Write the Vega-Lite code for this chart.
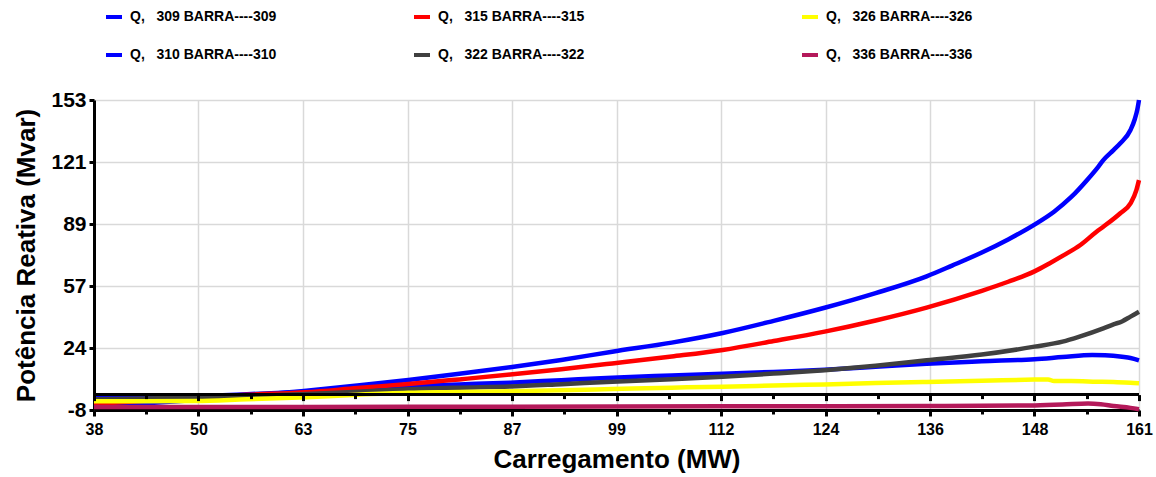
{
  "$schema": "https://vega.github.io/schema/vega-lite/v6.json",
  "width": 1045,
  "height": 310,
  "autosize": {"type": "none"},
  "padding": {"left": 94, "top": 100, "right": 17, "bottom": 67},
  "background": "white",
  "config": {
    "view": {"stroke": null},
    "font": "Liberation Sans",
    "axis": {"labelFont": "Liberation Sans", "labelFontWeight": "bold", "labelColor": "black", "titleFont": "Liberation Sans", "titleFontWeight": "bold", "titleColor": "black"},
    "legend": {"orient": "none", "direction": "vertical", "symbolType": "stroke", "symbolStrokeWidth": 4, "symbolSize": 256, "labelFont": "Liberation Sans", "labelFontWeight": "bold", "labelFontSize": 14, "labelColor": "black", "labelOffset": 6, "rowPadding": 20, "padding": 0, "title": null, "labelLimit": 400}
  },
  "data": {"values": [
    {"s":"309","x":38,"y":-6.3},{"s":"309","x":44,"y":-4.6},{"s":"309","x":50,"y":-2.8},{"s":"309","x":56,"y":-0.6},{"s":"309","x":63,"y":2.0},{"s":"309","x":69,"y":4.7},{"s":"309","x":75,"y":7.6},{"s":"309","x":81,"y":10.8},{"s":"309","x":87,"y":14.2},{"s":"309","x":93,"y":18.0},{"s":"309","x":99,"y":22.3},{"s":"309","x":106,"y":27.0},{"s":"309","x":112,"y":32.0},{"s":"309","x":118,"y":38.3},{"s":"309","x":124,"y":45.1},{"s":"309","x":130,"y":52.7},{"s":"309","x":136,"y":61.4},{"s":"309","x":139,"y":67.0},{"s":"309","x":142.5,"y":73.8},{"s":"309","x":145.6,"y":80.6},{"s":"309","x":148.7,"y":88.3},{"s":"309","x":151,"y":95.0},{"s":"309","x":153,"y":102.5},{"s":"309","x":155,"y":112.0},{"s":"309","x":156.2,"y":118.3},{"s":"309","x":156.8,"y":121.8},{"s":"309","x":158,"y":127.0},{"s":"309","x":158.8,"y":130.5},{"s":"309","x":160,"y":137.4},{"s":"309","x":160.5,"y":143.0},{"s":"309","x":160.8,"y":148.0},{"s":"309","x":161,"y":153.0},
    {"s":"310","x":38,"y":-1.9},{"s":"310","x":44,"y":-1.4},{"s":"310","x":50,"y":-0.8},{"s":"310","x":56,"y":0.2},{"s":"310","x":63,"y":1.5},{"s":"310","x":69,"y":3.0},{"s":"310","x":75,"y":4.4},{"s":"310","x":81,"y":5.3},{"s":"310","x":87,"y":6.2},{"s":"310","x":93,"y":7.5},{"s":"310","x":99,"y":8.8},{"s":"310","x":106,"y":9.9},{"s":"310","x":112,"y":10.8},{"s":"310","x":118,"y":11.8},{"s":"310","x":124,"y":12.9},{"s":"310","x":130,"y":14.4},{"s":"310","x":136,"y":16.0},{"s":"310","x":142.5,"y":17.3},{"s":"310","x":148.7,"y":18.4},{"s":"310","x":152,"y":19.5},{"s":"310","x":155.5,"y":20.6},{"s":"310","x":157,"y":20.4},{"s":"310","x":159,"y":19.6},{"s":"310","x":160,"y":19.0},{"s":"310","x":161,"y":17.8},
    {"s":"315","x":38,"y":-4.9},{"s":"315","x":44,"y":-3.2},{"s":"315","x":50,"y":-1.6},{"s":"315","x":56,"y":-0.1},{"s":"315","x":63,"y":1.2},{"s":"315","x":69,"y":3.4},{"s":"315","x":75,"y":5.5},{"s":"315","x":81,"y":7.9},{"s":"315","x":87,"y":10.4},{"s":"315","x":93,"y":13.2},{"s":"315","x":99,"y":16.2},{"s":"315","x":106,"y":19.8},{"s":"315","x":112,"y":23.2},{"s":"315","x":118,"y":27.8},{"s":"315","x":124,"y":32.7},{"s":"315","x":130,"y":38.5},{"s":"315","x":136,"y":45.2},{"s":"315","x":142.5,"y":53.9},{"s":"315","x":145.6,"y":58.6},{"s":"315","x":148.7,"y":64.0},{"s":"315","x":150.4,"y":68.0},{"s":"315","x":152.1,"y":72.3},{"s":"315","x":154.1,"y":77.7},{"s":"315","x":156,"y":84.6},{"s":"315","x":156.8,"y":87.2},{"s":"315","x":158.8,"y":94.2},{"s":"315","x":160,"y":99.3},{"s":"315","x":160.7,"y":106.3},{"s":"315","x":161,"y":111.4},
    {"s":"322","x":38,"y":-2.4},{"s":"322","x":44,"y":-2.0},{"s":"322","x":50,"y":-1.5},{"s":"322","x":56,"y":-0.7},{"s":"322","x":63,"y":0.3},{"s":"322","x":69,"y":1.5},{"s":"322","x":75,"y":2.8},{"s":"322","x":81,"y":3.6},{"s":"322","x":87,"y":4.2},{"s":"322","x":93,"y":5.4},{"s":"322","x":99,"y":6.7},{"s":"322","x":106,"y":8.0},{"s":"322","x":112,"y":9.3},{"s":"322","x":118,"y":10.9},{"s":"322","x":124,"y":12.7},{"s":"322","x":130,"y":15.0},{"s":"322","x":136,"y":17.8},{"s":"322","x":142.5,"y":20.8},{"s":"322","x":148.7,"y":24.9},{"s":"322","x":152,"y":27.5},{"s":"322","x":154,"y":30.1},{"s":"322","x":156.8,"y":34.4},{"s":"322","x":158,"y":36.5},{"s":"322","x":159,"y":38.0},{"s":"322","x":160,"y":40.5},{"s":"322","x":161,"y":43.0},
    {"s":"326","x":38,"y":-3.4},{"s":"326","x":44,"y":-3.4},{"s":"326","x":50,"y":-3.3},{"s":"326","x":56,"y":-2.4},{"s":"326","x":63,"y":-1.4},{"s":"326","x":69,"y":-0.1},{"s":"326","x":75,"y":0.9},{"s":"326","x":81,"y":1.3},{"s":"326","x":87,"y":1.8},{"s":"326","x":93,"y":2.3},{"s":"326","x":99,"y":2.9},{"s":"326","x":106,"y":3.6},{"s":"326","x":112,"y":4.1},{"s":"326","x":118,"y":4.7},{"s":"326","x":124,"y":5.3},{"s":"326","x":130,"y":6.0},{"s":"326","x":136,"y":6.6},{"s":"326","x":142.5,"y":7.2},{"s":"326","x":148.7,"y":7.8},{"s":"326","x":150.3,"y":7.9},{"s":"326","x":151,"y":7.0},{"s":"326","x":153,"y":7.0},{"s":"326","x":156,"y":6.7},{"s":"326","x":158,"y":6.5},{"s":"326","x":160,"y":6.2},{"s":"326","x":161,"y":5.9},
    {"s":"336","x":38,"y":-6.5},{"s":"336","x":63,"y":-6.4},{"s":"336","x":87,"y":-6.3},{"s":"336","x":112,"y":-6.1},{"s":"336","x":124,"y":-6.0},{"s":"336","x":136,"y":-5.9},{"s":"336","x":148.7,"y":-5.6},{"s":"336","x":152,"y":-5.2},{"s":"336","x":155,"y":-4.6},{"s":"336","x":156.5,"y":-5.0},{"s":"336","x":158,"y":-5.9},{"s":"336","x":160,"y":-6.9},{"s":"336","x":161,"y":-7.6}
  ]},
  "resolve": {"scale": {"color": "independent"}, "axis": {"x": "independent"}},
  "layer": [
    {
      "transform": [{"filter": "datum.s === '309' || datum.s === '310'"}],
      "mark": {"type": "line", "strokeWidth": 4.5, "interpolate": "monotone"},
      "encoding": {
        "x": {"field": "x", "type": "quantitative", "scale": {"domain": [38, 161], "nice": false, "zero": false},
          "axis": {
            "values": [38, 44.15, 50.3, 56.45, 62.6, 68.75, 74.9, 81.05, 87.2, 93.35, 99.5, 105.65, 111.8, 117.95, 124.1, 130.25, 136.4, 142.55, 148.7, 154.85, 161],
            "title": "Carregamento (MW)", "titleFontSize": 26, "titlePadding": 9,
            "labelFontSize": 16, "labelPadding": 5, "labelOverlap": false, "labelFlush": false,
            "labelExpr": "abs((datum.value-38)/12.3-round((datum.value-38)/12.3))<0.05 ? ['38','50','63','75','87','99','112','124','136','148','161'][round((datum.value-38)/12.3)] : ''",
            "domainColor": "black", "domainWidth": 3,
            "tickColor": "black", "tickWidth": 3,
            "tickSize": {"condition": {"test": "abs((datum.value-38)/12.3-round((datum.value-38)/12.3))<0.05", "value": 6}, "value": 4},
            "grid": true, "gridWidth": 1.5,
            "gridColor": {"condition": {"test": "abs((datum.value-38)/12.3-round((datum.value-38)/12.3))<0.05", "value": "#d9d9d9"}, "value": "transparent"}
          }},
        "y": {"field": "y", "type": "quantitative", "scale": {"domain": [-8, 153], "nice": false, "zero": false},
          "axis": {
            "values": [-8, 24.2, 56.4, 88.6, 120.8, 153],
            "labelExpr": "['-8','24','57','89','121','153'][round((datum.value+8)/32.2)]",
            "title": "Potência Reativa (Mvar)", "titleFontSize": 26, "titlePadding": 11,
            "labelFontSize": 21, "labelPadding": 3, "labelFlush": false,
            "tickSize": 5, "tickWidth": 3, "tickColor": "black",
            "domainColor": "black", "domainWidth": 3,
            "grid": true, "gridColor": "#d9d9d9", "gridWidth": 1.5
          }},
        "color": {"field": "s", "type": "nominal", "scale": {"domain": ["309", "310"], "range": ["#0000FF", "#0000FF"]},
          "legend": {"legendX": 10, "legendY": -93, "labelExpr": "'Q,\u00a0\u00a0\u00a0' + datum.label + ' BARRA----' + datum.label"}}
      }
    },
    {
      "transform": [{"filter": "datum.s === '315' || datum.s === '322'"}],
      "mark": {"type": "line", "strokeWidth": 4.5, "interpolate": "monotone"},
      "encoding": {
        "x": {"field": "x", "type": "quantitative", "axis": null},
        "y": {"field": "y", "type": "quantitative"},
        "color": {"field": "s", "type": "nominal", "scale": {"domain": ["315", "322"], "range": ["#FF0000", "#404040"]},
          "legend": {"legendX": 318, "legendY": -93, "labelExpr": "'Q,\u00a0\u00a0\u00a0' + datum.label + ' BARRA----' + datum.label"}}
      }
    },
    {
      "transform": [{"filter": "datum.s === '326' || datum.s === '336'"}],
      "mark": {"type": "line", "strokeWidth": 4.5, "interpolate": "monotone"},
      "encoding": {
        "x": {"field": "x", "type": "quantitative", "axis": null},
        "y": {"field": "y", "type": "quantitative"},
        "color": {"field": "s", "type": "nominal", "scale": {"domain": ["326", "336"], "range": ["#FFFF00", "#B4195A"]},
          "legend": {"legendX": 706, "legendY": -93, "labelExpr": "'Q,\u00a0\u00a0\u00a0' + datum.label + ' BARRA----' + datum.label"}}
      }
    },
    {
      "data": {"values": [{"zero": 0}]},
      "mark": {"type": "rule", "color": "black", "strokeWidth": 3},
      "encoding": {
        "x": {"datum": 38, "type": "quantitative",
          "axis": {
            "orient": "bottom", "offset": -15.4,
            "values": [38, 44.15, 50.3, 56.45, 62.6, 68.75, 74.9, 81.05, 87.2, 93.35, 99.5, 105.65, 111.8, 117.95, 124.1, 130.25, 136.4, 142.55, 148.7, 154.85, 161],
            "domain": false, "labels": false, "grid": false, "title": null,
            "tickColor": "black", "tickWidth": 3,
            "tickSize": {"condition": {"test": "abs((datum.value-38)/12.3-round((datum.value-38)/12.3))<0.05", "value": 6}, "value": 4},
            "zindex": 1
          }},
        "x2": {"datum": 161},
        "y": {"field": "zero", "type": "quantitative"}
      }
    }
  ]
}
